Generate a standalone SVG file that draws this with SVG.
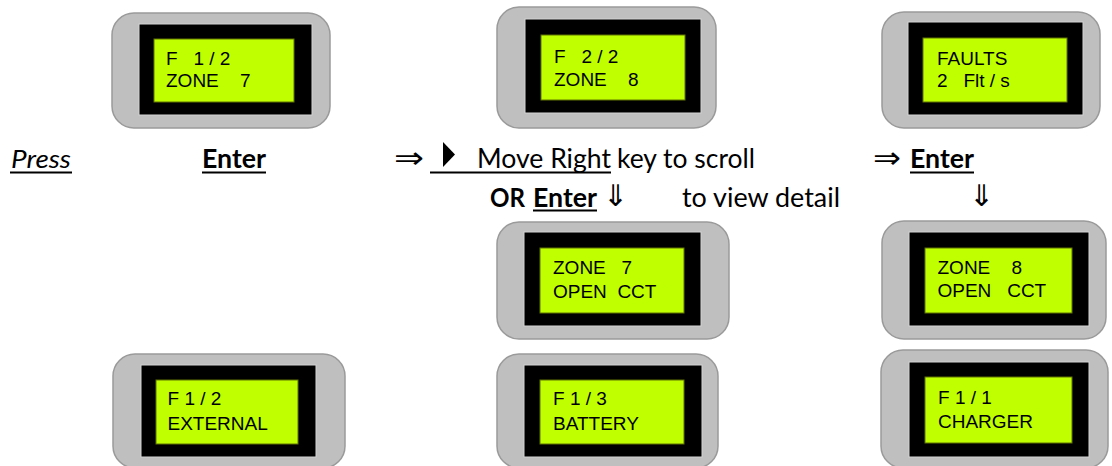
<svg xmlns="http://www.w3.org/2000/svg" width="1112" height="466" viewBox="0 0 1112 466">
<style>
.bez{fill:#bfbfbf;stroke:#9a9a9a;stroke-width:1.5}
.blk{fill:#000;stroke:#d4d4d4;stroke-width:1}
.lcd{fill:#c0ff00;stroke:#5f7300;stroke-width:1}
.lt{font-family:"Liberation Sans",Arial,sans-serif;font-size:19px;fill:#000;white-space:pre}
.t{font-family:Lato,"Liberation Sans",sans-serif;font-size:26px;fill:#000}
.b{font-weight:bold}
.i{font-style:italic}
.ul{stroke:#000;stroke-width:2}
.arr{font-family:"DejaVu Sans",sans-serif;font-size:30px;fill:#000}
</style>
<rect width="1112" height="466" fill="#fff"/>

<g id="node-f12-zone7">
<rect class="bez" x="112" y="13" width="218" height="115" rx="22"/>
<rect class="blk" x="139" y="24" width="173" height="91"/>
<rect class="lcd" x="154" y="39" width="140" height="63"/>
<text class="lt" x="166" y="65" xml:space="preserve">F   1 / 2</text>
<text class="lt" x="166" y="87" xml:space="preserve">ZONE    7</text>
</g>

<g id="node-f22-zone8">
<rect class="bez" x="497" y="7" width="219" height="121" rx="22"/>
<rect class="blk" x="525" y="19" width="176" height="94"/>
<rect class="lcd" x="541" y="35" width="144" height="65"/>
<text class="lt" x="554" y="63" xml:space="preserve">F   2 / 2</text>
<text class="lt" x="554" y="86" xml:space="preserve">ZONE    8</text>
</g>

<g id="node-faults">
<rect class="bez" x="882" y="12" width="218" height="116" rx="22"/>
<rect class="blk" x="908" y="22" width="175" height="93"/>
<rect class="lcd" x="923" y="38" width="144" height="64"/>
<text class="lt" x="937" y="65">FAULTS</text>
<text class="lt" x="937" y="87" xml:space="preserve">2   Flt / s</text>
</g>

<g id="node-zone7-open">
<rect class="bez" x="497" y="222" width="232" height="117" rx="22"/>
<rect class="blk" x="524" y="232" width="177" height="94"/>
<rect class="lcd" x="540" y="248" width="144" height="65"/>
<text class="lt" x="553" y="274" xml:space="preserve">ZONE   7</text>
<text class="lt" x="553" y="298" xml:space="preserve">OPEN  CCT</text>
</g>

<g id="node-zone8-open">
<rect class="bez" x="882" y="221" width="224" height="118" rx="22"/>
<rect class="blk" x="909" y="232" width="180" height="94"/>
<rect class="lcd" x="925" y="248" width="147" height="65"/>
<text class="lt" x="937.5" y="274" xml:space="preserve">ZONE    8</text>
<text class="lt" x="937.5" y="297" xml:space="preserve">OPEN   CCT</text>
</g>

<g id="node-external">
<rect class="bez" x="113" y="354" width="232" height="114" rx="22"/>
<rect class="blk" x="141" y="365" width="175" height="92"/>
<rect class="lcd" x="156" y="380" width="142" height="64"/>
<text class="lt" x="167.5" y="405">F 1 / 2</text>
<text class="lt" x="167.5" y="430">EXTERNAL</text>
</g>

<g id="node-battery">
<rect class="bez" x="497" y="354" width="221" height="114" rx="22"/>
<rect class="blk" x="524" y="365" width="178" height="92"/>
<rect class="lcd" x="540" y="380" width="144" height="64"/>
<text class="lt" x="553" y="405">F 1 / 3</text>
<text class="lt" x="553" y="430">BATTERY</text>
</g>

<g id="node-charger">
<rect class="bez" x="881" y="350" width="227" height="118" rx="22"/>
<rect class="blk" x="909" y="362" width="180" height="95"/>
<rect class="lcd" x="925" y="377" width="147" height="66"/>
<text class="lt" x="938" y="404">F 1 / 1</text>
<text class="lt" x="938" y="428">CHARGER</text>
</g>

<g id="instructions">
<text class="t i" x="11" y="168" textLength="60" lengthAdjust="spacingAndGlyphs">Press</text>
<line class="ul" x1="10" y1="172.5" x2="72" y2="172.5"/>
<text class="t b" x="202" y="168" textLength="64" lengthAdjust="spacingAndGlyphs">Enter</text>
<line class="ul" x1="202" y1="172.5" x2="266" y2="172.5"/>
<polygon points="443,142 455,154.5 443,167" fill="#000"/>
<text class="t" x="477" y="168" textLength="134" lengthAdjust="spacingAndGlyphs">Move Right</text>
<line class="ul" x1="430" y1="172.5" x2="611" y2="172.5"/>
<text class="t" x="617" y="168" textLength="138" lengthAdjust="spacingAndGlyphs">key to scroll</text>
<text class="t b" x="910" y="168" textLength="64" lengthAdjust="spacingAndGlyphs">Enter</text>
<line class="ul" x1="910" y1="172.5" x2="974" y2="172.5"/>
<text class="t b" x="490" y="206.5" textLength="35" lengthAdjust="spacingAndGlyphs">OR</text>
<text class="t b" x="533" y="206.5" textLength="64" lengthAdjust="spacingAndGlyphs">Enter</text>
<line class="ul" x1="533" y1="210.5" x2="597" y2="210.5"/>
<text class="t" x="682" y="206.5" textLength="158" lengthAdjust="spacingAndGlyphs">to view detail</text>
</g>

<g id="connectors">
<text class="arr" x="394" y="168" textLength="30" lengthAdjust="spacingAndGlyphs">⇒</text>
<text class="arr" x="873" y="168" textLength="28" lengthAdjust="spacingAndGlyphs">⇒</text>
<text class="arr" x="603" y="206">⇓</text>
<text class="arr" x="969" y="206">⇓</text>
</g>
</svg>
